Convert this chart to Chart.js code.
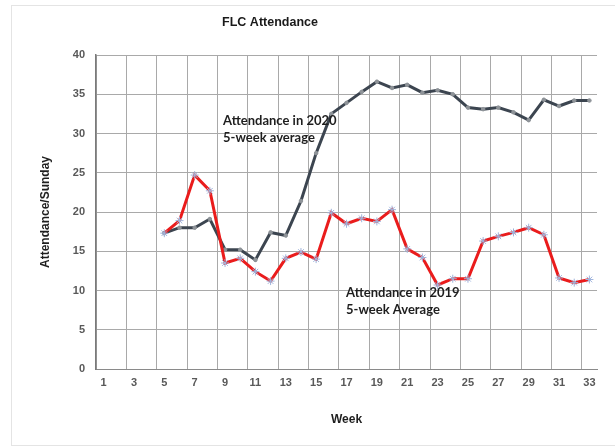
<!DOCTYPE html>
<html>
<head>
<meta charset="utf-8">
<script src="https://cdn.jsdelivr.net/npm/chart.js@4/dist/chart.umd.min.js"></script>
<style>
  html, body { margin: 0; padding: 0; background: #fff; }
  #wrap { position: relative; width: 615px; height: 447px; overflow: hidden; }
  #frame { position: absolute; left: 11px; top: 5px; width: 640px; height: 441px; border: 1px solid #e4e4e4; box-sizing: border-box; }
  canvas { position: absolute; left: 0; top: 0; }
</style>
</head>
<body>
<div id="wrap">
  <div id="frame"></div>
  <canvas id="chart" width="615" height="447"></canvas>
</div>
<script>
const weekLabels = ['1','2','3','4','5','6','7','8','9','10','11','12','13','14','15','16','17',
  '18','19','20','21','22','23','24','25','26','27','28','29','30','31','32','33']
// 5-week averages, weeks 1-4 have no value
const attendance2019 = [null,null,null,null,17.3,18.9,24.7,22.7,13.5,14.1,12.4,11.2,14.1,14.9,14.0,19.9,
  18.5,19.2,18.8,20.3,15.3,14.2,10.7,11.5,11.5,16.3,16.9,17.4,18.0,17.1,11.6,11.0,11.4]
const attendance2020 = [null,null,null,null,17.3,18.0,18.0,19.1,15.2,15.2,13.9,17.4,17.0,21.4,27.5,32.5,
  33.9,35.3,36.6,35.8,36.2,35.2,35.5,35.0,33.3,33.1,33.3,32.7,31.7,34.3,33.5,34.2,34.2]
const seriesNames = ['Attendance in 2019', 'Attendance in 2020']

// text written inside the plot, anchored in data units (category index, value)
const notes = [
  { lines: ['Attendance in 2020', '5-week average'], at: 7.87, value: 31.6 },
  { lines: ['Attendance in 2019', '5-week Average'], at: 15.97, value: 9.7 }
]

const gridColor = '#a9a9a9'
const tickColor = '#595959'
const fontFamily = "'Liberation Sans', Arial, sans-serif"

const extrasPlugin = {
  id: 'extras',
  afterDatasetsDraw(chart){
    const ctx = chart.ctx
    const xs = chart.scales.x
    const ys = chart.scales.y
    ctx.save()
    ctx.fillStyle = '#1e1e1e'
    ctx.font = "bold 13px Lato, 'Open Sans', sans-serif"
    ctx.textAlign = 'left'
    ctx.textBaseline = 'middle'
    for(const note of notes){
      const x = xs.getPixelForValue(note.at)
      let y = ys.getPixelForValue(note.value)
      for(const line of note.lines){
        ctx.fillText(line, x, y)
        y += 17
      }
    }
    ctx.restore()
  },
  afterDraw(chart){
    const ctx = chart.ctx
    ctx.save()
    ctx.fillStyle = '#1a1a1a'
    ctx.font = 'bold 12.5px ' + fontFamily
    ctx.textAlign = 'center'
    ctx.textBaseline = 'middle'
    ctx.fillText('FLC Attendance', 270, 23)
    ctx.restore()
  }
}

const chart = new Chart(document.querySelector('#chart'), {
  type: 'line',
  data: {
    labels: weekLabels,
    datasets: [
      {
        label: seriesNames[0],
        data: attendance2019,
        borderColor: '#ea1c1c',
        borderWidth: 3,
        pointStyle: 'star',
        pointRadius: 4,
        pointBorderColor: '#9fb4dc',
        pointBackgroundColor: '#9fb4dc',
        pointBorderWidth: 1,
        tension: 0
      },
      {
        label: seriesNames[1],
        data: attendance2020,
        borderColor: '#3c4550',
        borderWidth: 3,
        pointStyle: 'circle',
        pointRadius: 1.8,
        pointBorderColor: '#8f9499',
        pointBackgroundColor: '#8f9499',
        pointBorderWidth: 1,
        tension: 0
      }
    ]
  },
  options: {
    responsive: false,
    animation: false,
    devicePixelRatio: 1,
    layout: { padding: { left: 0, right: 18, top: 55, bottom: 0 } },
    plugins: {
      legend: { display: false },
      title: { display: false },
      tooltip: { enabled: false }
    },
    scales: {
      x: {
        type: 'category',
        offset: true,
        grid: {
          offset: true,
          drawTicks: false,
          color: (c) => (c.index % 2 === 0 || c.index === weekLabels.length) ? gridColor : 'rgba(0,0,0,0)',
          lineWidth: 1
        },
        border: { color: '#8a8a8a', width: 1 },
        ticks: {
          autoSkip: false,
          maxRotation: 0,
          padding: 7,
          color: tickColor,
          font: { family: fontFamily, size: 11, weight: 'bold' },
          callback: (v, i) => i % 2 === 0 ? weekLabels[i] : ''
        },
        title: {
          display: true,
          text: 'Week',
          color: '#1e1e1e',
          font: { family: fontFamily, size: 12, weight: 'bold' },
          padding: { top: 0, bottom: 20 }
        },
        afterFit(scale){ scale.height = 78 }
      },
      y: {
        min: 0,
        max: 40,
        ticks: {
          stepSize: 5,
          padding: 11,
          color: tickColor,
          font: { family: fontFamily, size: 11, weight: 'bold' }
        },
        grid: { color: gridColor, drawTicks: false, lineWidth: 1 },
        border: { color: '#7a7a7a', width: 1.5 },
        title: {
          display: true,
          text: 'Attendance/Sunday',
          color: '#1e1e1e',
          font: { family: fontFamily, size: 12, weight: 'bold' },
          padding: { top: 38, bottom: 0 }
        },
        afterFit(scale){ scale.width = 96 }
      }
    }
  },
  plugins: [extrasPlugin]
})
</script>
</body>
</html>
